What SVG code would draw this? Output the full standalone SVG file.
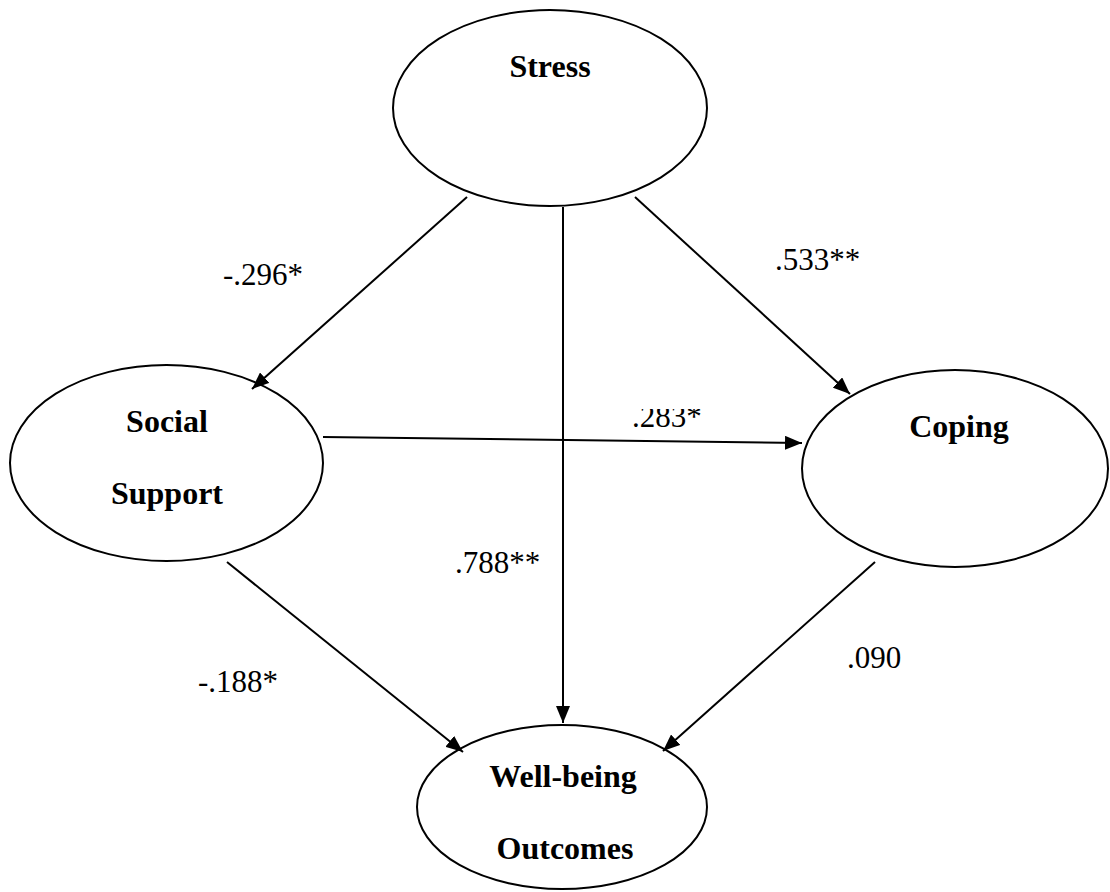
<svg xmlns="http://www.w3.org/2000/svg" width="1110" height="892" viewBox="0 0 1110 892">
<style>
.node{fill:#fff;stroke:#000;stroke-width:2}
text{font-family:'Liberation Serif','Times New Roman',Times,'DejaVu Serif',serif;fill:#000}
.nl{font-weight:bold;font-size:32px;text-anchor:middle}
.el{font-size:31px}
.edge{stroke:#000;stroke-width:2;fill:none;marker-end:url(#ah)}
</style>
<defs>
<marker id="ah" markerUnits="userSpaceOnUse" viewBox="0 0 17 14" refX="17" refY="7" markerWidth="17" markerHeight="14" orient="auto">
<path d="M0,0 L17,7 L0,14 z" fill="#000"/>
</marker>
<clipPath id="clip283"><rect x="620" y="409" width="100" height="40"/></clipPath>
</defs>
<rect width="1110" height="892" fill="#fff"/>
<g id="stress"><ellipse class="node" cx="550" cy="108" rx="157" ry="98"/><text class="nl" x="550" y="77" font-family="Liberation Serif, serif">Stress</text></g>
<g id="social-support"><ellipse class="node" cx="166.5" cy="463" rx="156.5" ry="98"/><text class="nl" x="167" y="432" font-family="Liberation Serif, serif">Social</text><text class="nl" x="167" y="504" font-family="Liberation Serif, serif">Support</text></g>
<g id="coping"><ellipse class="node" cx="955" cy="468.5" rx="153" ry="98.5"/><text class="nl" x="959" y="437" font-family="Liberation Serif, serif">Coping</text></g>
<g id="well-being"><ellipse class="node" cx="562" cy="807" rx="145" ry="82"/><text class="nl" x="563" y="787" font-family="Liberation Serif, serif">Well-being</text><text class="nl" x="565" y="859" font-family="Liberation Serif, serif">Outcomes</text></g>
<g id="connectors">
<path class="edge" d="M467,197 L252,389"/>
<path class="edge" d="M635,197 L850,394"/>
<path class="edge" d="M563,207 L563,723"/>
<path class="edge" d="M323,437 L802,443"/>
<path class="edge" d="M227,562 L463,752"/>
<path class="edge" d="M875,562 L663,751"/>
</g>
<g id="labels">
<text class="el" x="223" y="285" font-family="Liberation Serif, serif">-.296*</text>
<text class="el" x="775" y="270" font-family="Liberation Serif, serif">.533**</text>
<text class="el" x="632" y="427" clip-path="url(#clip283)" font-family="Liberation Serif, serif">.283*</text>
<text class="el" x="455" y="573" font-family="Liberation Serif, serif">.788**</text>
<text class="el" x="847" y="668" font-family="Liberation Serif, serif">.090</text>
<text class="el" x="278" y="692" text-anchor="end" font-family="Liberation Serif, serif">-.188*</text>
</g>
</svg>
